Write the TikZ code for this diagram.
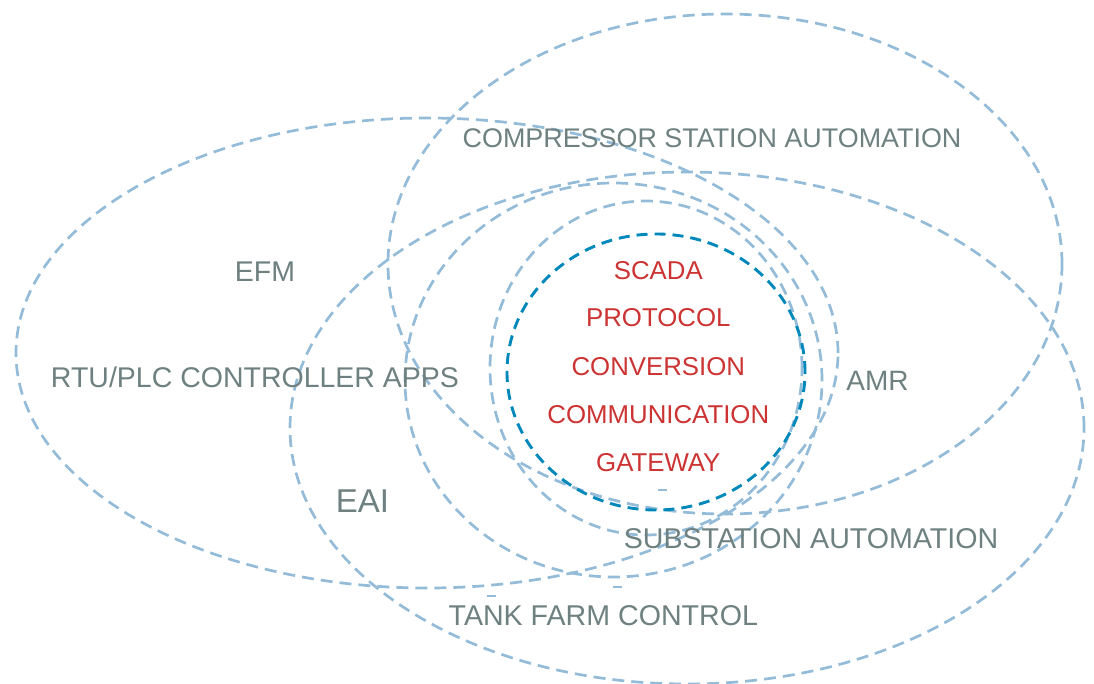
\documentclass[tikz,border=0pt]{standalone}
\usepackage{fontspec}
\setmainfont{Liberation Sans}
\definecolor{lblue}{RGB}{148,188,216}
\definecolor{dblue}{RGB}{0,136,187}
\definecolor{lgray}{RGB}{110,128,128}
\definecolor{lred}{RGB}{204,51,51}
\begin{document}
\begin{tikzpicture}[x=1pt,y=-1pt,
  ring/.style={draw=lblue, line width=2.7pt, dash pattern=on 12pt off 7pt},
  core/.style={draw=dblue, line width=2.9pt, dash pattern=on 11pt off 7pt},
  stray/.style={draw=lblue, line width=2.7pt},
  lab/.style={text=lgray, anchor=base, inner sep=0pt},
  redlab/.style={text=lred, anchor=base, inner sep=0pt, font=\fontsize{25.8}{30}\selectfont}]
\useasboundingbox (0,0) rectangle (1094,684);
% ellipses
\draw[ring] (427,353) ellipse [x radius=411pt, y radius=235pt];
\draw[ring] (725,264) ellipse [x radius=337pt, y radius=250pt];
\draw[ring] (687,428) ellipse [x radius=397pt, y radius=256pt];
\draw[ring] (613.5,380) ellipse [x radius=208.5pt, y radius=197pt];
\draw[ring] (646,368) ellipse [x radius=156pt, y radius=167pt];
\draw[core] (656,372) ellipse [x radius=149pt, y radius=138pt];
% stray dashes
\coordinate (s1a) at (658,490); \coordinate (s1b) at (667,490);
\coordinate (s2a) at (487,596); \coordinate (s2b) at (496,596);
\coordinate (s3a) at (613,587); \coordinate (s3b) at (622,587);
\draw[stray] (s1a) -- (s1b);
\draw[stray] (s2a) -- (s2b);
\draw[stray] (s3a) -- (s3b);
% labels
\node[lab, font=\fontsize{28.5}{32}\selectfont] (efm) at (265,282) {EFM};
\node[lab, font=\fontsize{28.5}{32}\selectfont] (rtu) at (255,387) {RTU/PLC CONTROLLER APPS};
\node[lab, font=\fontsize{33}{36}\selectfont] (eai) at (362.5,512) {EAI};
\node[lab, font=\fontsize{26.9}{30}\selectfont] (csa) at (712,148) {COMPRESSOR STATION AUTOMATION};
\node[lab, font=\fontsize{28}{32}\selectfont] (amr) at (877.5,390) {AMR};
\node[lab, font=\fontsize{28.6}{32}\selectfont] (sub) at (811,548) {SUBSTATION AUTOMATION};
\node[lab, font=\fontsize{28.6}{32}\selectfont] (tfc) at (603.3,625) {TANK FARM CONTROL};
\node[redlab] (scada) at (658.3,279.3) {SCADA};
\node[redlab] (proto) at (658.3,326.7) {PROTOCOL};
\node[redlab] (conv) at (658.3,375) {CONVERSION};
\node[redlab] (comm) at (658.3,423.3) {COMMUNICATION};
\node[redlab] (gate) at (658.3,471.7) {GATEWAY};
\end{tikzpicture}
\end{document}
